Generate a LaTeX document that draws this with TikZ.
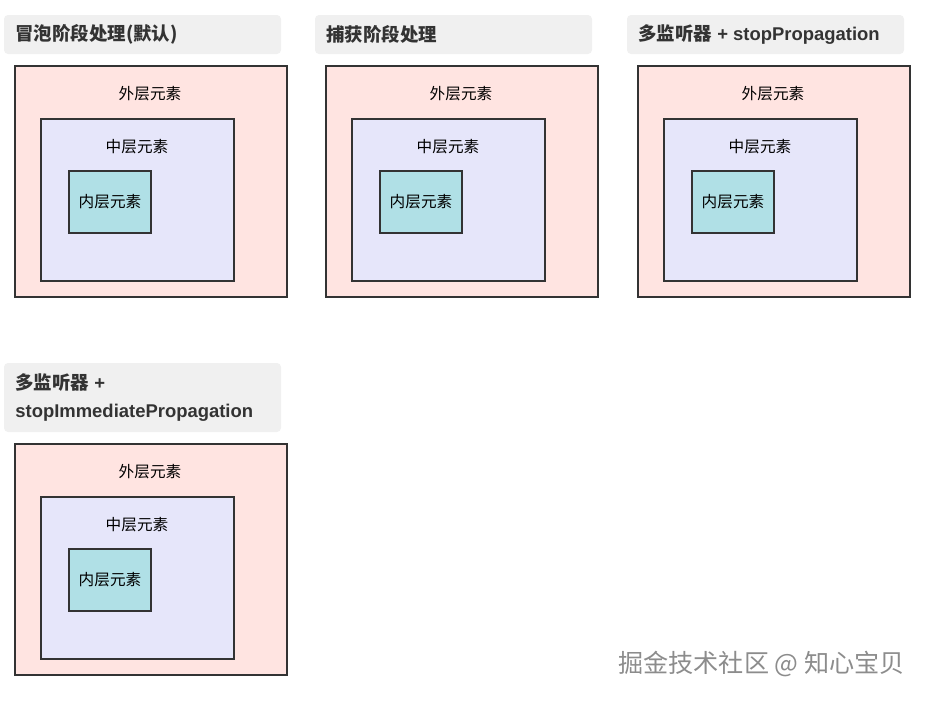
\documentclass[tikz,border=0pt]{standalone}
\usepackage{fontspec}
\setmainfont{Liberation Sans}
\newfontfamily\cjk{Noto Sans CJK SC}

\definecolor{titlebg}{HTML}{F0F0F0}
\definecolor{outerfill}{HTML}{FFE4E1}
\definecolor{midfill}{HTML}{E6E6FA}
\definecolor{innerfill}{HTML}{B0E0E6}
\definecolor{edge}{HTML}{333333}

\begin{document}
\begin{tikzpicture}[x=0.02cm, y=-0.02cm,
  titlebox/.style={fill=titlebg, draw=none, rounded corners=0.08cm},
  titletext/.style={anchor=west, inner sep=0pt, text=edge,
    font=\fontsize{10.5}{15}\selectfont\bfseries},
  outerbox/.style={fill=outerfill, draw=edge, line width=1.1pt},
  midbox/.style={fill=midfill, draw=edge, line width=1.1pt},
  innerbox/.style={fill=innerfill, draw=edge, line width=1.1pt},
  boxtext/.style={inner sep=0pt, text=black, font=\fontsize{8.9}{10}\selectfont\cjk}]
  \useasboundingbox (0,0) rectangle (925,700);
  % 冒泡阶段
  \begin{scope}
    \fill[titlebox] (4,15) rectangle (281,54);
    \node[titletext] (title1) at (15,34.5) {\cjk 冒泡阶段处理(默认)};
    \draw[outerbox] (15,66) rectangle (287,297);
    \draw[midbox]   (41,119) rectangle (234,281);
    \draw[innerbox] (69,171) rectangle (151,233);
    \node[boxtext] (outer1) at (150,94)  {外层元素};
    \node[boxtext] (mid1)   at (137,147) {中层元素};
    \node[boxtext] (inner1) at (110,202) {内层元素};
  \end{scope}
  % 捕获阶段
  \begin{scope}[shift={(311,0)}]
    \fill[titlebox] (4,15) rectangle (281,54);
    \node[titletext] (title2) at (15,34.5) {\cjk 捕获阶段处理};
    \draw[outerbox] (15,66) rectangle (287,297);
    \draw[midbox]   (41,119) rectangle (234,281);
    \draw[innerbox] (69,171) rectangle (151,233);
    \node[boxtext] (outer2) at (150,94)  {外层元素};
    \node[boxtext] (mid2)   at (137,147) {中层元素};
    \node[boxtext] (inner2) at (110,202) {内层元素};
  \end{scope}
  % stopPropagation
  \begin{scope}[shift={(623,0)}]
    \fill[titlebox] (4,15) rectangle (281,54);
    \node[titletext] (title3) at (15,34.5) {{\cjk 多监听器} + stopPropagation};
    \draw[outerbox] (15,66) rectangle (287,297);
    \draw[midbox]   (41,119) rectangle (234,281);
    \draw[innerbox] (69,171) rectangle (151,233);
    \node[boxtext] (outer3) at (150,94)  {外层元素};
    \node[boxtext] (mid3)   at (137,147) {中层元素};
    \node[boxtext] (inner3) at (110,202) {内层元素};
  \end{scope}
  % stopImmediatePropagation
  \begin{scope}[shift={(0,378)}]
    \fill[titlebox] (4,-15) rectangle (281,54);
    \node[titletext] (title4a) at (15,4.5) {{\cjk 多监听器} +};
    \node[titletext] (title4b) at (15,34.5) {stopImmediatePropagation};
    \draw[outerbox] (15,66) rectangle (287,297);
    \draw[midbox]   (41,119) rectangle (234,281);
    \draw[innerbox] (69,171) rectangle (151,233);
    \node[boxtext] (outer4) at (150,94)  {外层元素};
    \node[boxtext] (mid4)   at (137,147) {中层元素};
    \node[boxtext] (inner4) at (110,202) {内层元素};
  \end{scope}
  % 水印
  \node[anchor=east, inner sep=0pt, text=black!45,
    font=\fontsize{14.3}{16}\selectfont\cjk] (mark) at (905,664)
    {掘金技术社区 @ 知心宝贝};
\end{tikzpicture}
\end{document}
